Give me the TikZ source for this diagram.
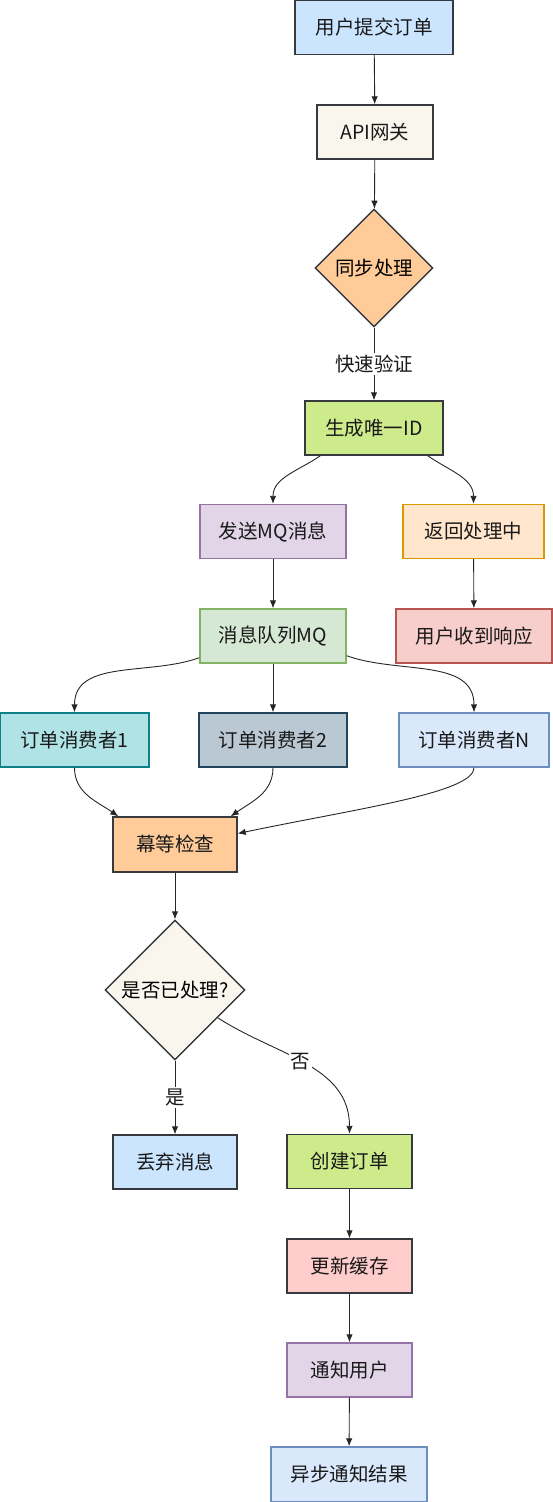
\documentclass[tikz,border=0pt]{standalone}
\usepackage{fontspec}
\setmainfont{Noto Sans CJK SC}
\usetikzlibrary{shapes.geometric}
\usetikzlibrary{arrows.meta}

\definecolor{lineDark}{HTML}{36393D}
\definecolor{fillBlue}{HTML}{CCE5FF}
\definecolor{fillCream}{HTML}{F9F7ED}
\definecolor{fillPeach}{HTML}{FFCC99}
\definecolor{fillLime}{HTML}{CDEB8B}
\definecolor{fillLilac}{HTML}{E1D5E7}
\definecolor{lineLilac}{HTML}{9673A6}
\definecolor{fillSand}{HTML}{FFE6CC}
\definecolor{lineSand}{HTML}{D79B00}
\definecolor{fillMint}{HTML}{D5E8D4}
\definecolor{lineMint}{HTML}{82B366}
\definecolor{fillRose}{HTML}{F8CECC}
\definecolor{lineRose}{HTML}{B85450}
\definecolor{fillTeal}{HTML}{B0E3E6}
\definecolor{lineTeal}{HTML}{0E8088}
\definecolor{fillSlate}{HTML}{BAC8D3}
\definecolor{lineSlate}{HTML}{23445D}
\definecolor{fillSky}{HTML}{DAE8FC}
\definecolor{lineSky}{HTML}{6C8EBF}
\definecolor{fillPink}{HTML}{FFCCCC}

\begin{document}
\begin{tikzpicture}[x=1pt,y=1pt,
  font=\fontsize{19.5}{22}\selectfont,
  box/.style={rectangle, line width=1.4pt, minimum height=54pt, inner sep=0pt, text=black!90},
  decision/.style={diamond, line width=1.4pt, inner sep=0pt},
  flow/.style={-{Latex[length=8pt,width=6.5pt]}, line width=0.9pt, black!85},
  edgetext/.style={fill=white, inner sep=2pt, text=black!90}]
\useasboundingbox (0,0) rectangle (553,-1502);

\node[box, fill=fillBlue, draw=lineDark, minimum width=158pt] (start) at (374,-27.5) {用户提交订单};
\node[box, fill=fillCream, draw=lineDark, minimum width=116pt] (api) at (375,-132) {API网关};
\node[decision, fill=fillPeach, draw=lineDark, minimum width=118pt, minimum height=118pt,
      label=center:同步处理] (sync) at (374,-268) {};
\node[box, fill=fillLime, draw=lineDark, minimum width=138pt] (genid) at (374,-428) {生成唯一ID};

\node[box, fill=fillLilac, draw=lineLilac, minimum width=146pt] (send) at (273,-531.5) {发送MQ消息};
\node[box, fill=fillSand, draw=lineSand, minimum width=141pt] (ret) at (473.5,-531.5) {返回处理中};
\node[box, fill=fillMint, draw=lineMint, minimum width=146pt] (mq) at (273,-636) {消息队列MQ};
\node[box, fill=fillRose, draw=lineRose, minimum width=156pt] (resp) at (474,-636) {用户收到响应};

\node[box, fill=fillTeal, draw=lineTeal, minimum width=149pt] (cons1) at (74.5,-740) {订单消费者1};
\node[box, fill=fillSlate, draw=lineSlate, minimum width=148pt] (cons2) at (273,-740) {订单消费者2};
\node[box, fill=fillSky, draw=lineSky, minimum width=150pt] (consN) at (474,-740) {订单消费者N};

\node[box, fill=fillPeach, draw=lineDark, minimum width=124pt, minimum height=55pt] (idem) at (175,-844.5) {幕等检查};
\node[decision, fill=fillCream, draw=lineDark, minimum width=140pt, minimum height=140pt,
      label=center:是否已处理?] (check) at (175,-990) {};

\node[box, fill=fillBlue, draw=lineDark, minimum width=124pt] (discard) at (175,-1162) {丢弃消息};
\node[box, fill=fillLime, draw=lineDark, minimum width=125pt] (create) at (349.5,-1161.5) {创建订单};
\node[box, fill=fillPink, draw=lineDark, minimum width=125pt] (update) at (349.5,-1266) {更新缓存};
\node[box, fill=fillLilac, draw=lineLilac, minimum width=125pt] (notify) at (349.5,-1370) {通知用户};
\node[box, fill=fillSky, draw=lineSky, minimum width=156pt, minimum height=55pt] (async) at (349,-1474.5) {异步通知结果};

\draw[flow] (start) -- (api);
\draw[flow] (api) -- (sync);
\draw[flow] (sync) -- node[edgetext] {快速验证} (genid);

\draw[flow] ([xshift=16pt]genid.south west) to[out=-145,in=90] (send.north);
\draw[flow] ([xshift=-16pt]genid.south east) to[out=-35,in=90] (ret.north);
\draw[flow] (send) -- (mq);
\draw[flow] (ret) -- (resp);

\draw[flow] ([yshift=6pt]mq.south west) to[out=-160,in=90] (cons1.north);
\draw[flow] (mq) -- (cons2);
\draw[flow] ([yshift=8pt]mq.south east) to[out=-20,in=90] (consN.north);

\draw[flow] (cons1.south) to[out=-90,in=145] ([xshift=6pt]idem.north west);
\draw[flow] (cons2.south) to[out=-90,in=35] ([xshift=-7pt]idem.north east);
\draw[flow] (consN.south) .. controls +(0,-25) and +(120,25) .. ([yshift=11pt]idem.east);

\draw[flow] (idem) -- (check);
\draw[flow] (check) -- node[edgetext] {是} (discard);
\draw[flow] (check.-33) to[out=-33,in=90] node[edgetext, pos=0.47] {否} (create.north);

\draw[flow] (create) -- (update);
\draw[flow] (update) -- (notify);
\draw[flow] (notify) -- (async);
\end{tikzpicture}
\end{document}
